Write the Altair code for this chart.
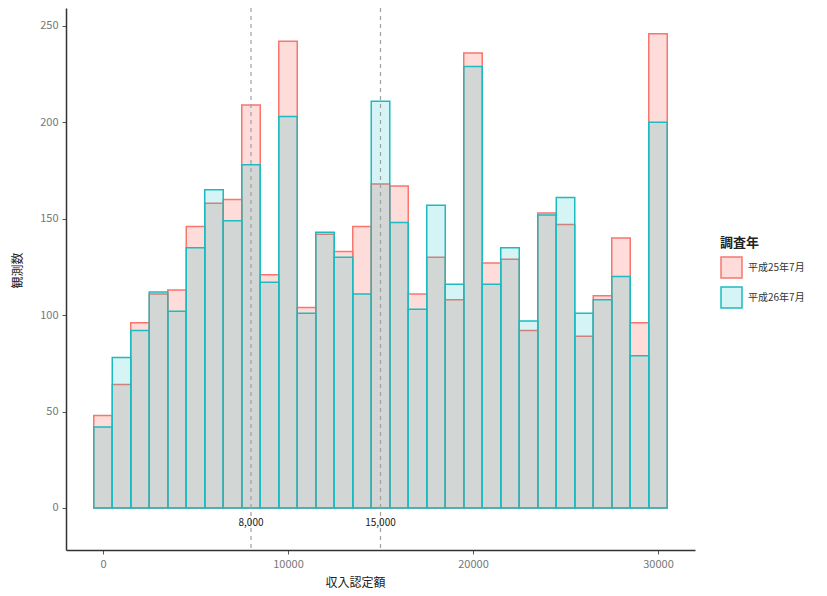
import altair as alt
import pandas as pd

# bin centres (収入認定額), bin width 1000
bin_centers = list(range(0, 31000, 1000))
h25 = [48, 64, 96, 111, 113, 146, 158, 160, 209, 121, 242, 104, 142, 133, 146, 168,
       167, 111, 130, 108, 236, 127, 129, 92, 153, 147, 89, 110, 140, 96, 246]
h26 = [42, 78, 92, 112, 102, 135, 165, 149, 178, 117, 203, 101, 143, 130, 111, 211,
       148, 103, 157, 116, 229, 116, 135, 97, 152, 161, 101, 108, 120, 79, 200]
years = ["平成25年7月", "平成26年7月"]
binwidth = 1000

vlines = [8000, 15000]
vline_labels = ["8,000", "15,000"]

rows = []
for name, vals in zip(years, [h25, h26]):
    for c, v in zip(bin_centers, vals):
        rows.append({"year": name, "x0": c - binwidth / 2, "x1": c + binwidth / 2, "count": v})
df = pd.DataFrame(rows)
vdf = pd.DataFrame({"v": vlines, "label": vline_labels, "ypos": [-8, -8]})

FONT = "Noto Sans CJK JP"

xscale = alt.Scale(domain=[-2000, 32000], nice=False, zero=False)
yscale = alt.Scale(domain=[-21.8, 259.3], nice=False, zero=False)

fill_range = ["rgba(248,118,109,0.26)", "rgba(0,191,196,0.17)"]
stroke_range = ["#F8766D", "#1DBBC0"]

bars = alt.Chart(df).mark_bar(strokeWidth=1.5, strokeOpacity=1).encode(
    x=alt.X("x0:Q", scale=xscale, title="収入認定額",
            axis=alt.Axis(values=[0, 10000, 20000, 30000], format="d", grid=False,
                          domainColor="#333", domainWidth=1.5, tickColor="#555",
                          tickSize=4, labelColor="#777", labelFontSize=11, labelFont=FONT,
                          labelPadding=4, titleFont=FONT, titleFontSize=12,
                          titleFontWeight="normal", titleColor="#222",
                          titleX=289, titleY=32, titleBaseline="middle", titleAlign="center")),
    x2="x1:Q",
    y=alt.Y("count:Q", scale=yscale, title="観測数",
            axis=alt.Axis(values=[0, 50, 100, 150, 200, 250], grid=False,
                          domainColor="#333", domainWidth=1.5, tickColor="#555",
                          tickSize=4, labelColor="#777", labelFontSize=11, labelFont=FONT,
                          labelPadding=4, titleFont=FONT, titleFontSize=12,
                          titleFontWeight="normal", titleColor="#222",
                          titleX=-49, titleY=262, titleAlign="center", titleBaseline="middle")),
    y2=alt.datum(0),
    fill=alt.Fill("year:N", scale=alt.Scale(domain=years, range=fill_range),
                  legend=alt.Legend(title="調査年", orient="none", legendX=654, legendY=229,
                                    titleFont=FONT, titleFontSize=13, titleFontWeight="bold",
                                    titleColor="#222", labelFont=FONT, labelFontSize=10,
                                    labelColor="#333", symbolType="square", symbolSize=441,
                                    symbolStrokeWidth=1.5, rowPadding=3, labelOffset=5,
                                    titlePadding=6)),
    stroke=alt.Stroke("year:N", scale=alt.Scale(domain=years, range=stroke_range),
                      legend=None),
    order=alt.Order("year:N"),
)

rules = alt.Chart(vdf).mark_rule(strokeDash=[4, 4], color="#a0a0a0", strokeWidth=1.2).encode(
    x=alt.X("v:Q", scale=xscale)
)

texts = alt.Chart(vdf).mark_text(font=FONT, fontSize=10, color="#222").encode(
    x=alt.X("v:Q", scale=xscale),
    y=alt.Y("ypos:Q", scale=yscale),
    text="label:N",
)

chart = alt.layer(bars, rules, texts).properties(
    width=629, height=542,
    autosize=alt.AutoSizeParams(type="none"),
    padding={"left": 58, "top": 0, "right": 120, "bottom": 38},
).configure(background="white").configure_view(strokeWidth=0, stroke="transparent")

chart.save("out.html", embed_options={"renderer": "svg", "actions": False})
